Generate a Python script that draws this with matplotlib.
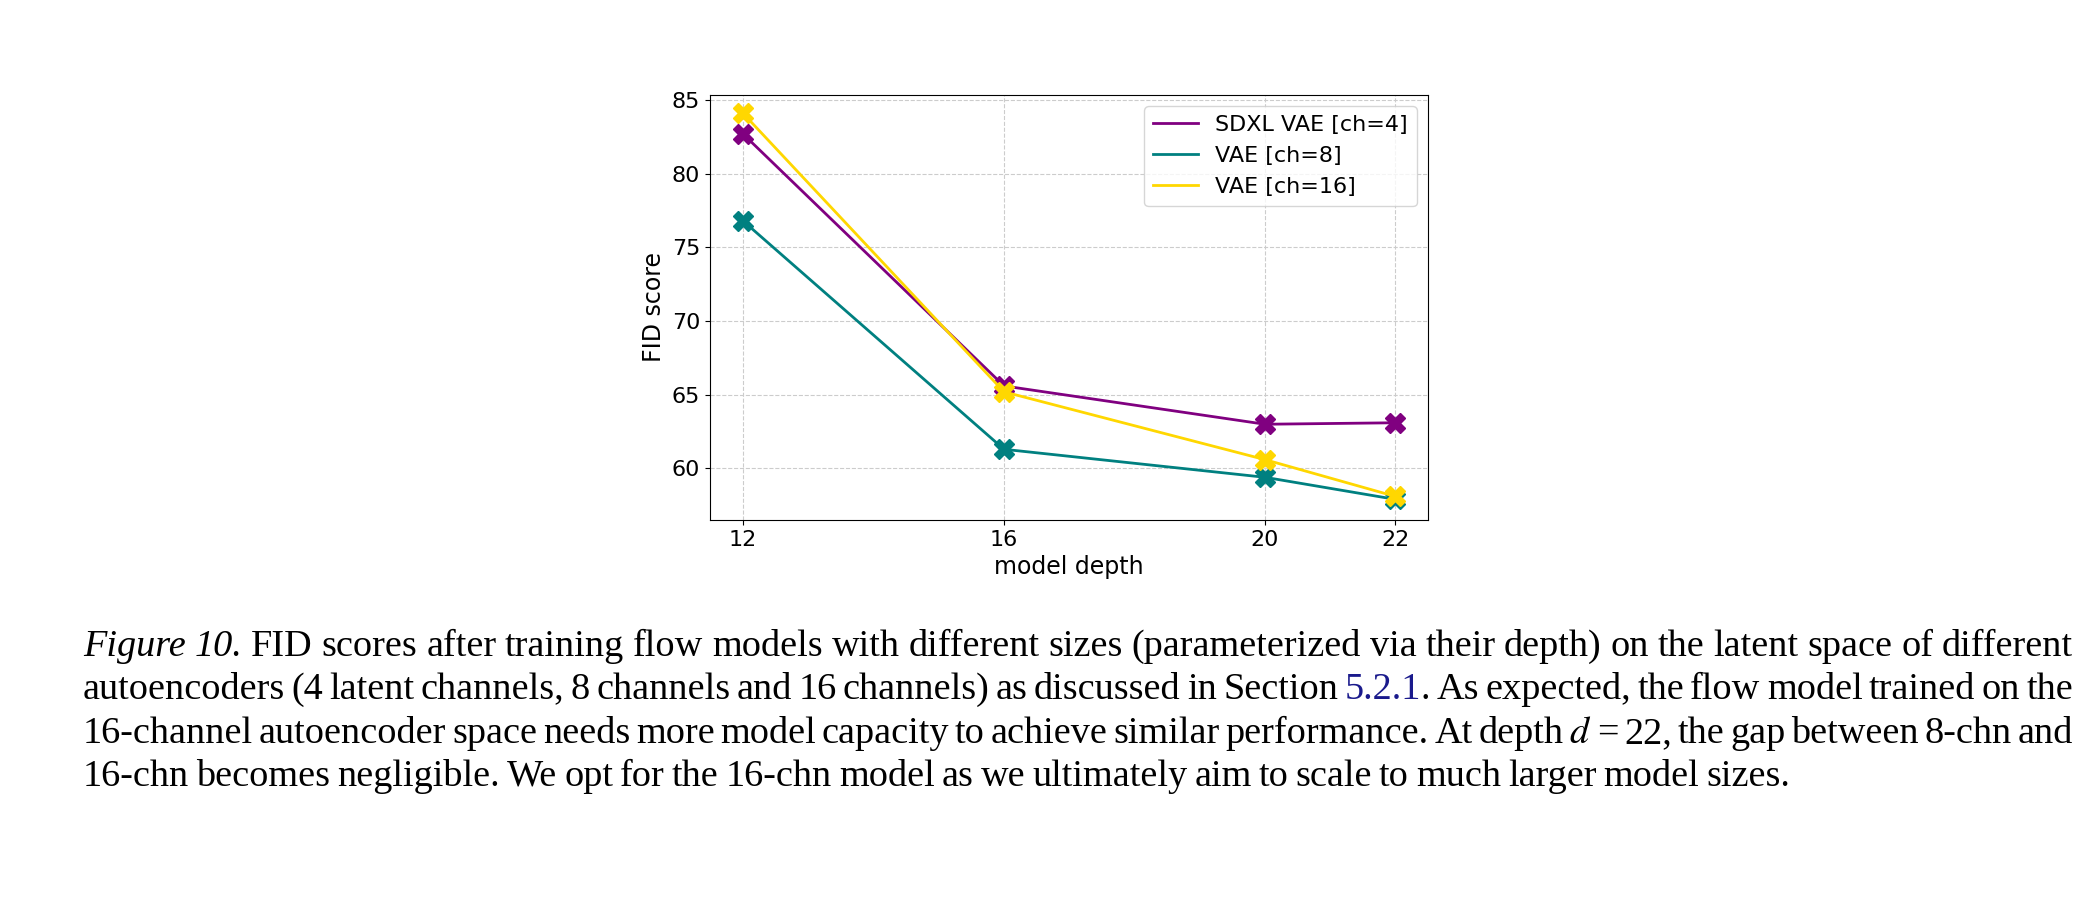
import matplotlib
matplotlib.use("Agg")
import matplotlib.pyplot as plt
plt.rcParams["mathtext.fontset"] = "stix"

depths = [12, 16, 20, 22]
sdxl = [82.7, 65.6, 63.0, 63.1]
vae8 = [76.8, 61.3, 59.4, 57.9]
vae16 = [84.1, 65.2, 60.6, 58.1]
labels = ["SDXL VAE [ch=4]", "VAE [ch=8]", "VAE [ch=16]"]
colors = ["#800080", "#008080", "#FFD700"]

fig = plt.figure(figsize=(21, 9.22), dpi=100)
ax = fig.add_axes([0.338, 0.436, 0.342, 0.461])
for ys, lab, c in zip([sdxl, vae8, vae16], labels, colors):
    ax.plot(depths, ys, color=c, lw=2, label=lab)
    ax.plot(depths, ys, color=c, lw=0, marker="X", markersize=14)
ax.set_xlim(11.49, 22.5)
ax.set_ylim(56.5, 85.35)
ax.set_xticks(depths)
ax.set_yticks([60, 65, 70, 75, 80, 85])
ax.tick_params(labelsize=16)
ax.grid(True, ls="--", color="#cccccc", lw=0.8)
ax.set_xlabel("model depth", fontsize=17)
ax.set_ylabel("FID score", fontsize=17)
ax.legend(fontsize=16, loc="upper right")

lines = [
    [("Figure 10.", "it", "k"), ("FID scores after training flow models with different sizes (parameterized via their depth) on the latent space of different", "n", "k")],
    [("autoencoders (4 latent channels, 8 channels and 16 channels) as discussed in Section", "n", "k"), ("5.2.1", "n", "#1a1a8c"), (". As expected, the flow model trained on the", "n", "k")],
    [("16-channel autoencoder space needs more model capacity to achieve similar performance. At depth", "n", "k"), ("$d$", "n", "k"), ("= 22, the gap between 8-chn and", "n", "k")],
    [("16-chn becomes negligible. We opt for the 16-chn model as we ultimately aim to scale to much larger model sizes.", "n", "k")],
]
x0, x1 = 83, 2073
ys_px = [656, 699, 743, 786]
fs = 27.5
fig.canvas.draw()
r = fig.canvas.get_renderer()
W, H = fig.bbox.width, fig.bbox.height
for li, (segs, ypx) in enumerate(zip(lines, ys_px)):
    words = []
    for txt, sty, col in segs:
        parts = txt.split(" ")
        for k, p in enumerate(parts):
            if p == "":
                continue
            glue = (k == 0 and txt[0] in ".," and words)
            words.append([p, sty, col, glue])
    objs = []
    for w, sty, col, glue in words:
        t = fig.text(0, 1 - ypx / H, w, fontsize=fs, family="Liberation Serif",
                     style="italic" if sty == "it" else "normal", color=col, va="baseline")
        objs.append((t, t.get_window_extent(r).width, glue))
    total = sum(o[1] for o in objs)
    ngaps = sum(1 for o in objs[1:] if not o[2])
    last = li == len(lines) - 1
    gap = 7.0 if last or ngaps == 0 else (x1 - x0 - total) / ngaps
    x = x0
    for i, (t, w, glue) in enumerate(objs):
        if i > 0 and not glue:
            x += gap
        t.set_x(x / W)
        x += w

fig.savefig("out.png", dpi=100)
